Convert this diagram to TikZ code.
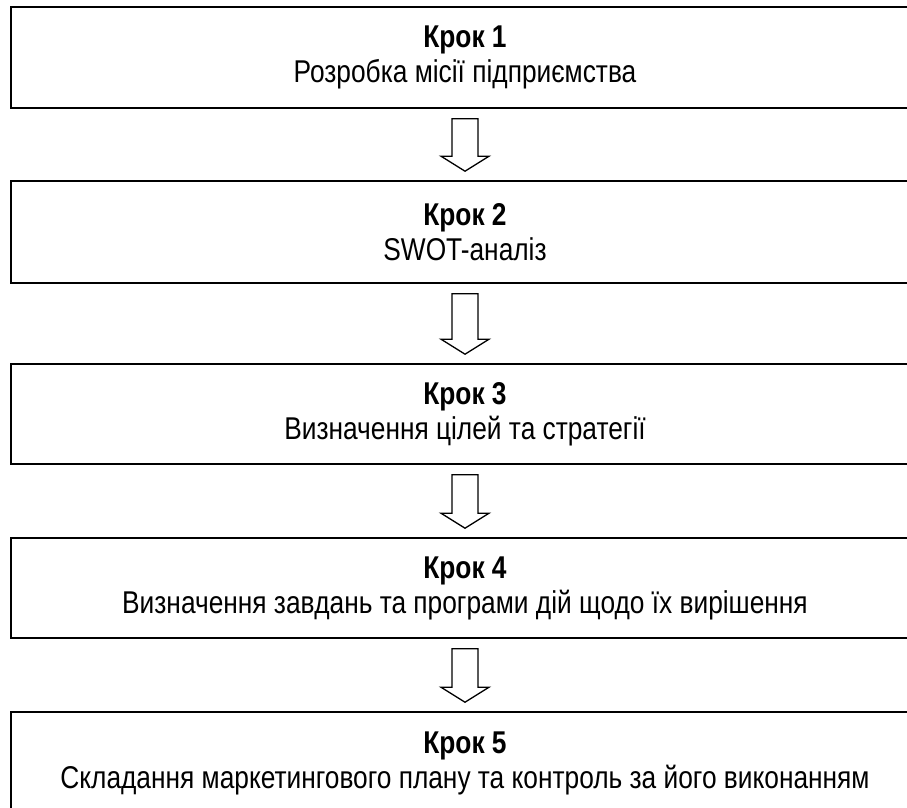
\documentclass[tikz,border=0pt]{standalone}
\usepackage{fontspec}
\setmainfont{Liberation Sans}[FakeStretch=0.835]
\begin{document}
\begin{tikzpicture}[x=1pt,y=-1pt,
  stepbox/.style={draw=black, line width=1.6pt, fill=white, rectangle,
    minimum width=908pt, inner sep=0pt, align=center,
    font=\fontsize{31.5}{35}\selectfont},
  blockarr/.style={draw=black, line width=1.3pt, fill=white, line join=miter}]
\useasboundingbox (0,0) rectangle (907,808);
\node[stepbox, minimum height=101pt] (b1) at (465,57.5) {\textbf{Крок 1}\\Розробка місії підприємства};
\node[stepbox, minimum height=102pt] (b2) at (465,232) {\textbf{Крок 2}\\SWOT-аналіз};
\node[stepbox, minimum height=100pt] (b3) at (465,414) {\textbf{Крок 3}\\Визначення цілей та стратегії};
\node[stepbox, minimum height=100pt] (b4) at (465,588) {\textbf{Крок 4}\\Визначення завдань та програми дій щодо їх вирішення};
\node[stepbox, minimum height=102pt] (b5) at (465,763) {\textbf{Крок 5}\\Складання маркетингового плану та контроль за його виконанням};
\newcommand\blockarrow[2]{%
  \draw[blockarr] ([xshift=-13pt,yshift=-10pt]#1.south)
    -- ([xshift=-13pt,yshift=24pt]#2.north)
    -- ([xshift=-24pt,yshift=24pt]#2.north)
    -- ([yshift=9pt]#2.north)
    -- ([xshift=24pt,yshift=24pt]#2.north)
    -- ([xshift=13pt,yshift=24pt]#2.north)
    -- ([xshift=13pt,yshift=-10pt]#1.south) -- cycle;}
\blockarrow{b1}{b2}
\blockarrow{b2}{b3}
\blockarrow{b3}{b4}
\blockarrow{b4}{b5}
\end{tikzpicture}
\end{document}
